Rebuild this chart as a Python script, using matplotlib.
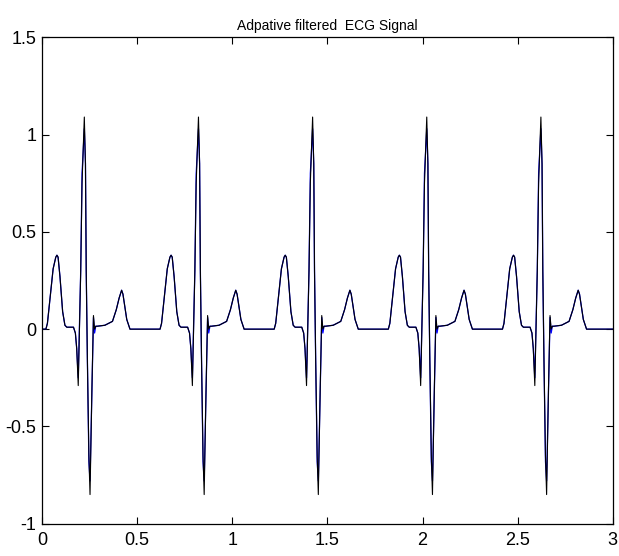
import numpy as np
import matplotlib
matplotlib.use("Agg")
import matplotlib.pyplot as plt

plt.rcParams['font.family'] = ['Liberation Sans', 'DejaVu Sans']

# one heartbeat (time in s, amplitude)
beat_t = [0.000, 0.020, 0.028, 0.042, 0.058, 0.072, 0.078, 0.084, 0.094, 0.108, 0.120,
          0.130, 0.165, 0.175, 0.182, 0.190, 0.203, 0.210, 0.222, 0.228, 0.232, 0.238,
          0.246, 0.252, 0.262, 0.270, 0.276, 0.282, 0.290, 0.330, 0.370, 0.390, 0.405,
          0.418, 0.425, 0.445, 0.462, 0.600]
beat_black = [0.00, 0.00, 0.03, 0.16, 0.31, 0.37, 0.38, 0.37, 0.27, 0.09, 0.02,
              0.01, 0.01, -0.02, -0.10, -0.29, 0.30, 0.75, 1.09, 0.85, 0.30, -0.15,
              -0.65, -0.85, -0.30, 0.07, 0.00, 0.015, 0.015, 0.02, 0.04, 0.10, 0.16,
              0.20, 0.18, 0.05, 0.00, 0.00]
beat_blue = [0.00, 0.00, 0.03, 0.16, 0.31, 0.37, 0.38, 0.37, 0.27, 0.09, 0.02,
             0.01, 0.01, -0.02, -0.10, -0.25, 0.30, 0.80, 1.03, 0.85, 0.30, -0.15,
             -0.68, -0.78, -0.30, 0.06, -0.02, 0.015, 0.015, 0.02, 0.04, 0.10, 0.16,
             0.20, 0.18, 0.05, 0.00, 0.00]
beat_starts = [0.0, 0.6, 1.2, 1.8, 2.4]

t = np.concatenate([np.array(beat_t) + s for s in beat_starts])
x_orig = np.tile(beat_blue, len(beat_starts))
x_filt = np.tile(beat_black, len(beat_starts))

fig = plt.figure(figsize=(6.19, 5.56), dpi=100)
ax = fig.add_axes([0.068, 0.058, 0.922, 0.875])

ax.plot(t, x_orig, color='#0000ff', lw=0.9)
ax.plot(t, x_filt, color='black', lw=0.8)

ax.set_xlim(0, 3)
ax.set_ylim(-1, 1.5)
ax.set_xticks([0, 0.5, 1, 1.5, 2, 2.5, 3])
ax.set_xticklabels(['0', '0.5', '1', '1.5', '2', '2.5', '3'])
ax.set_yticks([-1, -0.5, 0, 0.5, 1, 1.5])
ax.set_yticklabels(['-1', '-0.5', '0', '0.5', '1', '1.5'])
ax.tick_params(direction='in', length=5, top=True, right=True, labelsize=13)
ax.tick_params(axis='x', pad=6)
ax.tick_params(axis='y', pad=4)
for sp in ax.spines.values():
    sp.set_linewidth(0.9)

ax.set_title('Adpative filtered  ECG Signal', fontsize=10, pad=5)

fig.savefig('out.png', dpi=100)
